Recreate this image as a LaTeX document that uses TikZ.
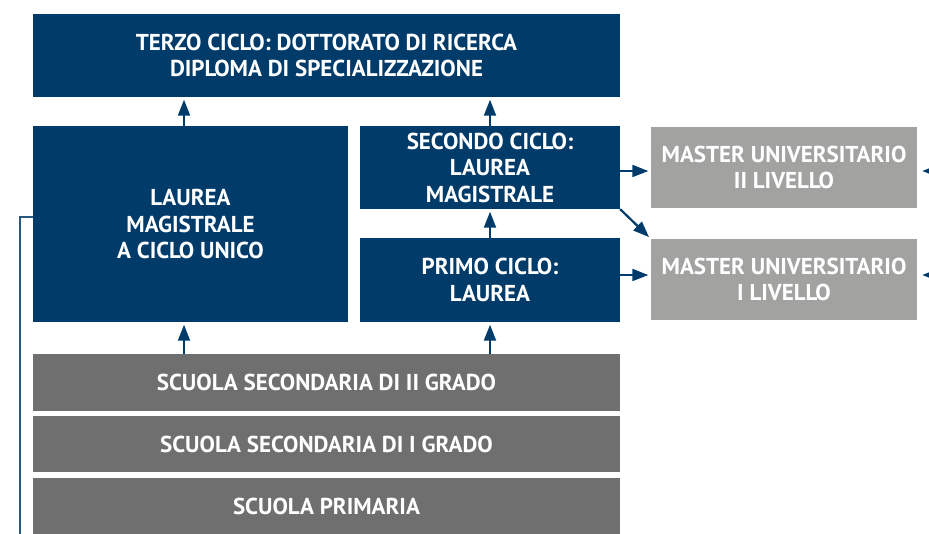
\documentclass[tikz,border=0pt]{standalone}
\usepackage{fontspec}
\setmainfont{PT Sans}
\usetikzlibrary{arrows.meta}
\definecolor{navy}{HTML}{003B6A}
\definecolor{mgrey}{HTML}{A2A2A1}
\definecolor{dgrey}{HTML}{6F6F6F}
\tikzset{
  blk/.style={rectangle, inner sep=0pt, align=center, text=white,
    font=\fontsize{23}{26.5}\selectfont\bfseries},
  navybox/.style={blk, fill=navy},
  masterbox/.style={blk, fill=mgrey},
  schoolbox/.style={blk, fill=dgrey},
  arr/.style={draw=navy, line width=2.2pt, -{Triangle[length=16pt,width=12pt]}, shorten >=2.5pt},
  sideline/.style={draw=navy!85, line width=2pt}
}
\begin{document}
\begin{tikzpicture}[x=1pt,y=-1pt]
\useasboundingbox (0,0) rectangle (929,533);
\clip (0,0) rectangle (929,533);
\node[navybox, minimum width=587pt, minimum height=83pt] (terzo) at (326.5,55.5) {TERZO CICLO: DOTTORATO DI RICERCA\\DIPLOMA DI SPECIALIZZAZIONE};
\node[navybox, minimum width=315pt, minimum height=196pt] (unico) at (190.5,224) {LAUREA\\MAGISTRALE\\A CICLO UNICO};
\node[navybox, minimum width=260pt, minimum height=83pt] (secondo) at (490,167.5) {SECONDO CICLO:\\LAUREA\\MAGISTRALE};
\node[navybox, minimum width=260pt, minimum height=84pt] (primo) at (490,280) {PRIMO CICLO:\\LAUREA};
\node[masterbox, minimum width=266pt, minimum height=81pt] (m2) at (784,167.5) {MASTER UNIVERSITARIO\\II LIVELLO};
\node[masterbox, minimum width=266pt, minimum height=81pt] (m1) at (784,279.5) {MASTER UNIVERSITARIO\\I LIVELLO};
\node[schoolbox, minimum width=587pt, minimum height=57pt] (s2) at (326.5,382.5) {SCUOLA SECONDARIA DI II GRADO};
\node[schoolbox, minimum width=587pt, minimum height=56pt] (s1) at (326.5,444) {SCUOLA SECONDARIA DI I GRADO};
\node[schoolbox, minimum width=587pt, minimum height=56pt] (prim) at (326.5,506) {SCUOLA PRIMARIA};
\coordinate (ax) at (184,0);
\coordinate (hy2) at (0,171);
\coordinate (hy1) at (0,275);
\coordinate (r2) at (965,171);
\coordinate (r1) at (965,275);
\coordinate (lx) at (20,0);
\coordinate (ly) at (0,217);
\coordinate (bot) at (20,540);
% vertical arrows
\draw[arr] (unico.north -| ax) -- (terzo.south -| ax);
\draw[arr] (s2.north -| ax) -- (unico.south -| ax);
\draw[arr] (secondo.north) -- (terzo.south -| secondo.north);
\draw[arr] (primo.north) -- (secondo.south);
\draw[arr] (s2.north -| primo.south) -- (primo.south);
% horizontal arrows
\draw[arr] (secondo.east |- hy2) -- (m2.west |- hy2);
\draw[arr] (primo.east |- hy1) -- (m1.west |- hy1);
\draw[arr] (secondo.south east) -- (m1.north west);
\draw[arr, shorten >=5pt] (r2) -- (m2.east |- r2);
\draw[arr, shorten >=5pt] (r1) -- (m1.east |- r1);
% side line
\draw[sideline] (unico.west |- ly) -- (lx |- ly) -- (bot);
\end{tikzpicture}
\end{document}
